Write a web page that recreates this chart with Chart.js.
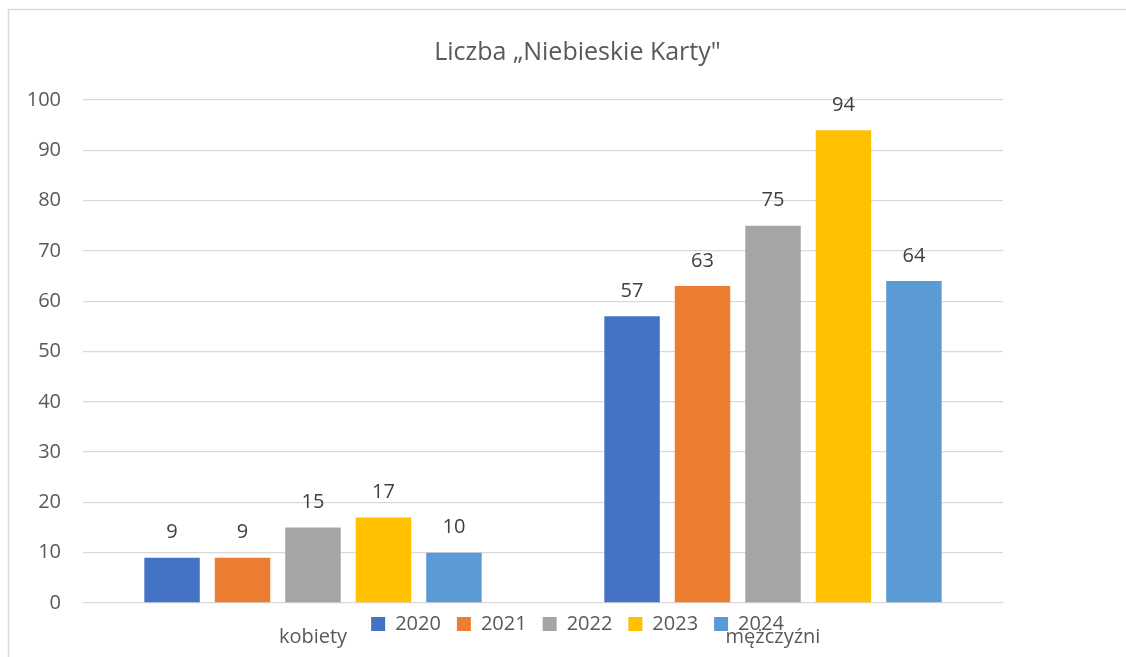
<!DOCTYPE html>
<html>
<head>
<meta charset="utf-8">
<script src="https://cdn.jsdelivr.net/npm/chart.js@4"></script>
<style>
  html, body { margin: 0; padding: 0; background: #fff; }
  #wrap { width: 1126px; height: 657px; }
</style>
</head>
<body>
<div id="wrap"><canvas id="cards"></canvas></div>
<script>
const categories = ["kobiety", "mężczyźni"];
const years = ["2020", "2021", "2022", "2023", "2024"];
const values2020 = [9, 57];
const values2021 = [9, 63];
const values2022 = [15, 75];
const values2023 = [17, 94];
const values2024 = [10, 64];
const yearColors = ["#4472C4", "#ED7D31", "#A5A5A5", "#FFC000", "#5B9BD5"];

const seriesValues = [values2020, values2021, values2022, values2023, values2024];
const FONT = "'Open Sans', 'Liberation Sans', sans-serif";
const TEXT = "#595959";

// white page + the thin frame round the chart object
const frame = {
  id: "frame",
  beforeDraw(chart) {
    const c = chart.ctx;
    c.save();
    c.fillStyle = "#fff";
    c.fillRect(0, 0, chart.width, chart.height);
    c.strokeStyle = "#d9d9d9";
    c.lineWidth = 1.5;
    c.beginPath();
    c.moveTo(8.5, chart.height);
    c.lineTo(8.5, 9.5);
    c.lineTo(chart.width, 9.5);
    c.stroke();
    c.restore();
  }
};

// Excel draws the legend on top of the category labels
const legendUp = {
  id: "legendUp",
  afterLayout(chart) {
    const lg = chart.legend;
    const dy = lg.top - (chart.chartArea.bottom - 5);
    lg.top -= dy;
    lg.bottom -= dy;
  }
};

const valueLabels = {
  id: "valueLabels",
  afterDatasetsDraw(chart) {
    const c = chart.ctx;
    c.save();
    c.font = "20px " + FONT;
    c.fillStyle = "#404040";
    c.textAlign = "center";
    c.textBaseline = "middle";
    chart.data.datasets.forEach((ds, i) => {
      chart.getDatasetMeta(i).data.forEach((bar, j) => {
        c.fillText(String(ds.data[j]), bar.x, bar.y - 25);
      });
    });
    c.restore();
  }
};

new Chart(document.getElementById("cards"), {
  type: "bar",
  data: {
    labels: categories,
    datasets: years.map((y, i) => ({
      label: y,
      data: seriesValues[i],
      backgroundColor: yearColors[i],
      barPercentage: 0.787,
      categoryPercentage: 0.766
    }))
  },
  options: {
    responsive: true,
    maintainAspectRatio: false,
    animation: false,
    layout: { padding: { top: 38, left: 29, right: 0, bottom: -52 } },
    scales: {
      x: {
        grid: { display: false, drawTicks: false },
        border: { display: false },
        ticks: { padding: 22, color: TEXT, font: { family: FONT, size: 20 } },
        afterFit: s => { s.height = 60; }
      },
      y: {
        min: 0,
        max: 100,
        grid: { color: "#d9d9d9", lineWidth: 1.3, drawTicks: false },
        border: { display: false },
        ticks: { stepSize: 10, padding: 22, color: TEXT, font: { family: FONT, size: 20 } },
        afterFit: s => { s.width = 54; }
      },
      yRight: {
        position: "right",
        grid: { display: false },
        border: { display: false },
        ticks: { display: false },
        afterFit: s => { s.width = 123; }
      }
    },
    plugins: {
      title: {
        display: true,
        text: "Liczba „Niebieskie Karty\"",
        color: TEXT,
        font: { family: FONT, size: 25, weight: "normal" },
        padding: { top: 0, bottom: 32 }
      },
      legend: {
        position: "bottom",
        labels: {
          color: TEXT,
          font: { family: FONT, size: 20 },
          boxWidth: 14,
          boxHeight: 14,
          padding: 16
        }
      },
      tooltip: { enabled: false }
    }
  },
  plugins: [frame, legendUp, valueLabels]
});
</script>
</body>
</html>
